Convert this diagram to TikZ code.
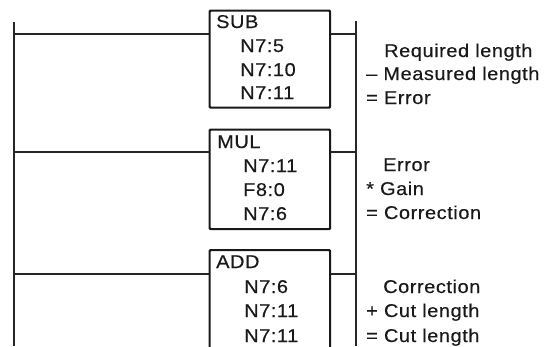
\documentclass[tikz,border=0pt]{standalone}
\usepackage{fontspec}
\setmainfont[FakeStretch=1.08,LetterSpace=3,FakeBold=0.35]{Liberation Sans}
\begin{document}
\begin{tikzpicture}[x=1pt,y=-1pt,
  rail/.style={line width=1.6pt,black!85},
  rung/.style={line width=1.3pt,black!85},
  blockbox/.style={draw=black!90,line width=2.2pt,rounded corners=1pt,minimum width=120.5pt,anchor=north west,inner sep=0pt},
  txt/.style={anchor=base west,inner sep=0pt,font=\fontsize{18.5}{20}\selectfont,text=black!90}]
\useasboundingbox (0,0) rectangle (551,346);
\clip (0,0) rectangle (551,346);
\coordinate (ltop) at (14,22);
\coordinate (lbot) at (14,346);
\coordinate (rtop) at (356,21);
\coordinate (rbot) at (356,346);
\draw[rail] (ltop) -- (lbot);
\draw[rail] (rtop) -- (rbot);
\node[blockbox,minimum height=97pt] (b1) at (208.5,9.5) {};
\node[blockbox,minimum height=99.5pt] (b2) at (208.5,128.5) {};
\node[blockbox,minimum height=120pt] (b3) at (208.5,249) {};
\foreach \b/\y in {b1/34,b2/152,b3/274}{
  \coordinate (l\b) at (14,\y);
  \coordinate (r\b) at (356,\y);
  \draw[rung] (l\b) -- (l\b -| \b.west);
  \draw[rung] (r\b) -- (r\b -| \b.east);
}
\node[txt] (t11) at (216,28) {SUB};
\node[txt] (t12) at (240,52) {N7:5};
\node[txt] (t13) at (240,76) {N7:10};
\node[txt] (t14) at (240,99) {N7:11};
\node[txt] (t21) at (217,148) {MUL};
\node[txt] (t22) at (243,172) {N7:11};
\node[txt] (t23) at (243,196) {F8:0};
\node[txt] (t24) at (243,220) {N7:6};
\node[txt] (t31) at (216,268) {ADD};
\node[txt] (t32) at (244,293) {N7:6};
\node[txt] (t33) at (244,317) {N7:11};
\node[txt] (t34) at (244,342) {N7:11};
\node[txt] (c11) at (384,57) {Required length};
\node[txt] (c12) at (366,80) {– Measured length};
\node[txt] (c13) at (366,104) {= Error};
\node[txt] (c21) at (383,171) {Error};
\node[txt] (c22) at (366,195) {* Gain};
\node[txt] (c23) at (366,219) {= Correction};
\node[txt] (c31) at (383,293) {Correction};
\node[txt] (c32) at (366,317) {+ Cut length};
\node[txt] (c33) at (366,342) {= Cut length};
\end{tikzpicture}
\end{document}
